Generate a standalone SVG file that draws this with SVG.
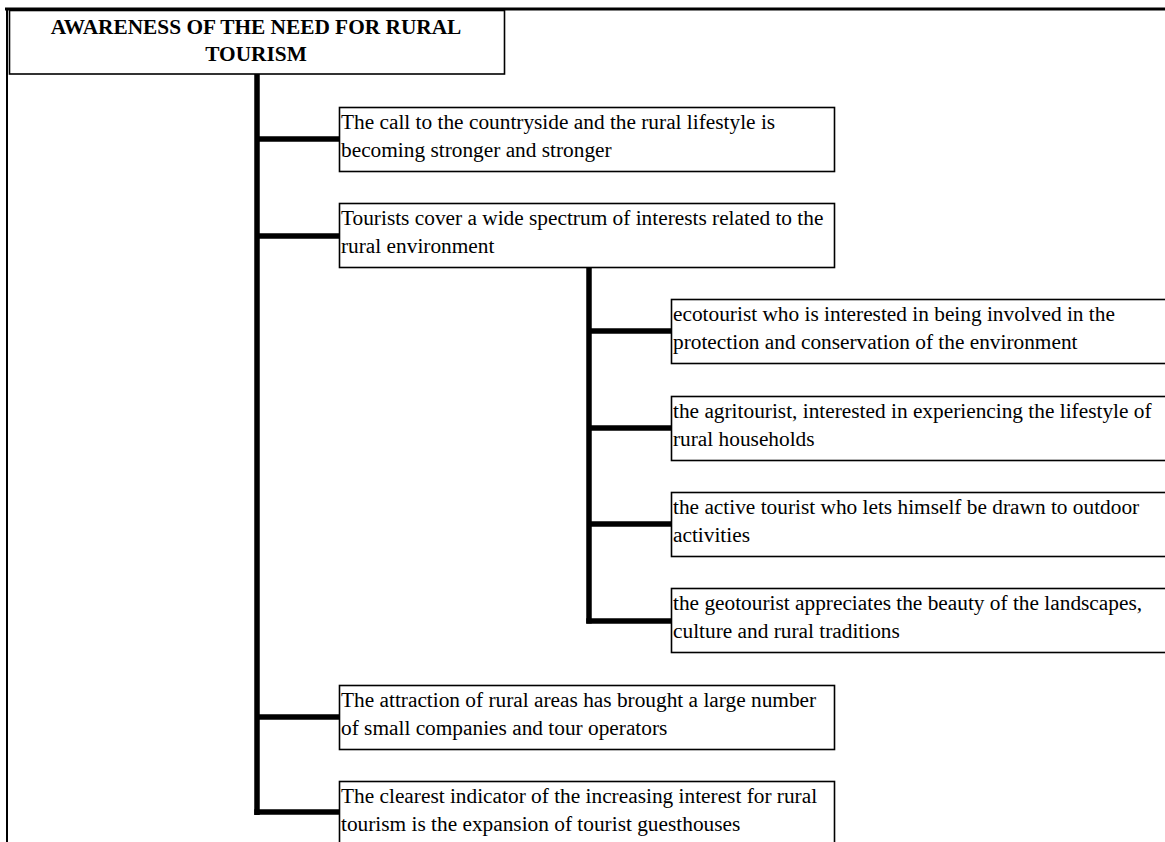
<svg xmlns="http://www.w3.org/2000/svg" width="1165" height="842" viewBox="0 0 1165 842">
<style>
.box{fill:#fff;stroke:#000;stroke-width:1.6}
.t{font-family:"Liberation Serif","Times New Roman",serif;font-size:21.33px;fill:#000}
.title{font-weight:bold;text-anchor:middle}
.c{stroke:#000;stroke-width:5.5;fill:none}
.frame{stroke:#000;fill:none}
</style>
<rect width="1165" height="842" fill="#fff"/>
<g id="frame">
<line class="frame" x1="5" y1="9" x2="1165" y2="9" stroke-width="3"/>
<line class="frame" x1="7" y1="8" x2="7" y2="842" stroke-width="2"/>
</g>
<g id="connectors">
<line class="c" x1="257" y1="74" x2="257" y2="815"/>
<line class="c" x1="257" y1="139" x2="339" y2="139"/>
<line class="c" x1="257" y1="236" x2="339" y2="236"/>
<line class="c" x1="257" y1="717" x2="339" y2="717"/>
<line class="c" x1="254.25" y1="812" x2="339" y2="812"/>
<line class="c" x1="589" y1="268" x2="589" y2="623.5"/>
<line class="c" x1="589" y1="331" x2="671" y2="331"/>
<line class="c" x1="589" y1="428" x2="671" y2="428"/>
<line class="c" x1="589" y1="524" x2="671" y2="524"/>
<line class="c" x1="586.25" y1="621" x2="671" y2="621"/>
</g>
<g id="title">
<rect class="box" x="9.5" y="10.5" width="495" height="63.5" stroke-width="2"/>
<text class="t title" x="256" y="34">AWARENESS OF THE NEED FOR RURAL</text>
<text class="t title" x="256" y="61">TOURISM</text>
</g>
<g id="n1">
<rect class="box" x="339.5" y="107.5" width="495" height="64"/>
<text class="t" x="341" y="128.5">The call to the countryside and the rural lifestyle is</text>
<text class="t" x="341" y="156.5">becoming stronger and stronger</text>
</g>
<g id="n2">
<rect class="box" x="339.5" y="203.5" width="495" height="64"/>
<text class="t" x="341" y="224.5">Tourists cover a wide spectrum of interests related to the</text>
<text class="t" x="341" y="252.5">rural environment</text>
</g>
<g id="n2a">
<rect class="box" x="671.5" y="299.5" width="520" height="64"/>
<text class="t" x="673" y="320.5">ecotourist who is interested in being involved in the</text>
<text class="t" x="673" y="348.5">protection and conservation of the environment</text>
</g>
<g id="n2b">
<rect class="box" x="671.5" y="396.5" width="520" height="64"/>
<text class="t" x="673" y="417.5">the agritourist, interested in experiencing the lifestyle of</text>
<text class="t" x="673" y="445.5">rural households</text>
</g>
<g id="n2c">
<rect class="box" x="671.5" y="492.5" width="520" height="64"/>
<text class="t" x="673" y="513.5">the active tourist who lets himself be drawn to outdoor</text>
<text class="t" x="673" y="541.5">activities</text>
</g>
<g id="n2d">
<rect class="box" x="671.5" y="588.5" width="520" height="64"/>
<text class="t" x="673" y="609.5">the geotourist appreciates the beauty of the landscapes,</text>
<text class="t" x="673" y="637.5">culture and rural traditions</text>
</g>
<g id="n3">
<rect class="box" x="339.5" y="685.5" width="495" height="64"/>
<text class="t" x="341" y="706.5">The attraction of rural areas has brought a large number</text>
<text class="t" x="341" y="734.5">of small companies and tour operators</text>
</g>
<g id="n4">
<rect class="box" x="339.5" y="781.5" width="495" height="70"/>
<text class="t" x="341" y="802.5">The clearest indicator of the increasing interest for rural</text>
<text class="t" x="341" y="830.5">tourism is the expansion of tourist guesthouses</text>
</g>
</svg>
